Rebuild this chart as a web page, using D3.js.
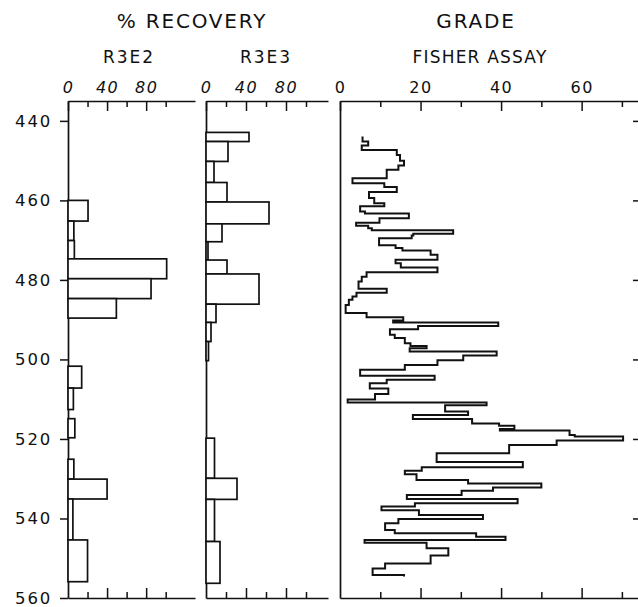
<!DOCTYPE html>
<html>
<head>
<meta charset="utf-8">
<script src="https://cdn.jsdelivr.net/npm/d3@7"></script>
<style>
  body { margin: 0; background: #fff; }
  svg { display: block; background: #fff; }
  text { font-family: "DejaVu Sans", sans-serif; fill: #111; }
</style>
</head>
<body>
<svg id="chart" width="638" height="607"></svg>
<script>
// Depth axis (ft) and tick values
const depthTicks = [440, 460, 480, 500, 520, 540, 560];
const depthMarks = [440, 460, 480, 500, 520, 540];
const recoveryMajor = [0, 40, 80];
const recoveryMinor = [20, 60, 100];
const gradeMajor = [0, 20, 40, 60];
const gradeMinor = [10, 30, 50, 70];

// % recovery, well R3E2: interval top, interval bottom, recovery
const r3e2Top    = [460.0, 465.2, 470.1, 474.7, 479.7, 484.7, 501.7, 507.2, 514.9, 525.1, 530.1, 535.1, 545.4];
const r3e2Bottom = [465.2, 470.1, 474.7, 479.7, 484.7, 489.6, 507.2, 512.6, 519.7, 530.1, 535.1, 545.4, 555.9];
const r3e2Value  = [20.5, 6, 6.5, 101, 85, 49.5, 14, 5.5, 7, 6, 40, 5, 20];

// % recovery, well R3E3
const r3e3Top    = [442.9, 445.2, 450.2, 455.5, 460.4, 465.9, 470.4, 475.0, 478.5, 486.1, 490.7, 495.5, 519.8, 529.9, 535.2, 545.8];
const r3e3Bottom = [445.2, 450.2, 455.5, 460.4, 465.9, 470.4, 475.0, 478.5, 486.1, 490.7, 495.5, 500.3, 529.9, 535.2, 545.8, 556.3];
const r3e3Value  = [43, 22, 8, 21, 63, 16, 2, 21, 53, 10, 5, 2.5, 8.5, 31, 8.5, 14];

// Fisher assay grade profile: interval boundaries (ft) and grade within each interval
const assayDepth = [
  443.9, 445.2, 446.2, 447.3, 448.6, 450.0, 451.2, 452.3, 454.4, 455.7,
  456.6, 457.9, 459.4, 460.7, 461.5, 462.8, 463.3, 464.5, 465.6, 466.4,
  467.0, 467.5, 468.4, 468.8, 469.5, 471.3, 472.0, 472.6, 473.7, 474.9,
  475.8, 476.9, 478.1, 479.2, 480.4, 482.2, 483.2, 484.2, 485.0, 486.3,
  488.3, 489.4, 490.2, 490.7, 491.6, 492.4, 493.8, 494.6, 495.9, 496.6,
  497.2, 498.0, 499.0, 500.2, 501.4, 502.6, 504.1, 505.1, 506.0, 507.3,
  508.7, 510.1, 510.8, 511.5, 513.1, 514.0, 515.0, 516.1, 516.7, 517.5,
  517.9, 519.0, 519.4, 520.4, 521.5, 523.6, 525.8, 527.1, 528.0, 528.9,
  530.3, 531.2, 532.2, 533.0, 534.1, 535.1, 536.2, 537.0, 537.9, 539.1,
  540.1, 541.2, 542.9, 543.7, 544.6, 545.4, 546.1, 547.5, 549.3, 551.3,
  552.6, 554.2, 554.6
];
const assayGrade = [
  5.6, 7.0, 5.4, 14.1, 14.9, 15.9, 14.5, 11.6, 3.1, 11.0,
  14.1, 7.2, 8.5, 11.0, 5.0, 6.2, 17.1, 9.8, 4.0, 7.0,
  7.9, 28.1, 18.2, 17.8, 9.7, 13.8, 15.5, 22.5, 24.2, 13.8,
  15.1, 24.2, 6.6, 5.4, 4.6, 11.6, 4.1, 3.1, 2.2, 1.4,
  6.6, 15.7, 13.2, 39.3, 19.4, 12.4, 13.6, 16.1, 17.5, 21.5,
  17.3, 38.9, 30.6, 24.2, 16.1, 5.0, 23.5, 11.6, 7.4, 12.0,
  8.7, 1.9, 36.4, 26.1, 31.8, 18.1, 32.8, 39.5, 43.3, 39.7,
  57.0, 58.3, 70.3, 53.8, 42.0, 24.0, 45.4, 20.3, 16.1, 19.0,
  31.8, 50.0, 38.0, 30.2, 16.6, 44.1, 18.6, 10.3, 19.6, 35.5,
  14.5, 11.2, 13.6, 33.8, 41.1, 6.1, 21.5, 26.9, 22.5, 11.2,
  8.1, 15.9
];

const svg = d3.select("#chart");
const ink = "#111";

const y  = d3.scaleLinear().domain([435, 560]).range([101, 598]);
const x1 = d3.scaleLinear().domain([0, 130]).range([68, 195]);
const x2 = d3.scaleLinear().domain([0, 122]).range([206, 328]);
const x3 = d3.scaleLinear().domain([0, 74]).range([340, 638]);

function styleAxis(g, opts = {}) {
  g.selectAll("path.domain").attr("stroke", ink).attr("stroke-width", 1.7);
  g.selectAll(".tick line").attr("stroke", ink).attr("stroke-width", 1.5);
  g.selectAll(".tick text").attr("font-family", "DejaVu Sans, sans-serif")
    .attr("font-size", opts.size || 16).attr("fill", ink)
    .attr("font-style", opts.italic ? "italic" : "normal")
    .attr("letter-spacing", opts.spacing || 0);
  if (opts.noDomain) g.select("path.domain").remove();
  g.attr("font-family", null);
}

// Depth axis on the left of the first panel
svg.append("g").attr("transform", "translate(68,0)")
  .call(d3.axisLeft(y).tickValues(depthTicks).tickSize(8).tickSizeOuter(0).tickPadding(8).tickFormat(d3.format("d")))
  .call(g => styleAxis(g, { size: 16.5, spacing: 1.8 }));

// Inward depth ticks on the right edge of the grade panel
svg.append("g").attr("transform", "translate(638,0)")
  .call(d3.axisLeft(y).tickValues(depthMarks).tickSize(5).tickSizeOuter(0).tickFormat(""))
  .call(g => styleAxis(g, { noDomain: true }));

// Left edges of the second and third panels
[x2, x3].forEach(sc => {
  svg.append("g").attr("transform", `translate(${sc(0)},0)`)
    .call(d3.axisLeft(y).tickValues([]).tickSizeOuter(0))
    .call(g => styleAxis(g));
});

function frameAxes(sc, major, minor, italic, fmt) {
  // top: labelled major ticks and short minor ticks, pointing into the panel
  svg.append("g").attr("transform", "translate(0,101)")
    .call(d3.axisTop(sc).tickValues(major).tickSizeInner(-10).tickSizeOuter(0).tickPadding(8).tickFormat(fmt))
    .call(g => styleAxis(g, { size: 16, italic, spacing: 1.5 }));
  svg.append("g").attr("transform", "translate(0,101)")
    .call(d3.axisTop(sc).tickValues(minor).tickSizeInner(-6).tickSizeOuter(0).tickFormat(""))
    .call(g => styleAxis(g, { noDomain: true }));
  // bottom: ticks pointing up
  svg.append("g").attr("transform", "translate(0,598)")
    .call(d3.axisBottom(sc).tickValues(major.filter(v => v > 0)).tickSizeInner(-10).tickSizeOuter(0).tickFormat(""))
    .call(g => styleAxis(g));
  svg.append("g").attr("transform", "translate(0,598)")
    .call(d3.axisBottom(sc).tickValues(minor).tickSizeInner(-6).tickSizeOuter(0).tickFormat(""))
    .call(g => styleAxis(g, { noDomain: true }));
}
frameAxes(x1, recoveryMajor, recoveryMinor, true, d3.format("d"));
frameAxes(x2, recoveryMajor, recoveryMinor, true, d3.format("d"));
frameAxes(x3, gradeMajor, gradeMinor, false, d3.format("d"));

// Recovery bars
function drawBars(sc, tops, bottoms, values) {
  svg.append("g").selectAll("rect")
    .data(values.map((v, i) => ({ top: tops[i], bottom: bottoms[i], v })))
    .join("rect")
    .attr("x", sc(0))
    .attr("y", d => y(d.top))
    .attr("width", d => sc(d.v) - sc(0))
    .attr("height", d => y(d.bottom) - y(d.top))
    .attr("fill", "#fff")
    .attr("stroke", ink)
    .attr("stroke-width", 1.7);
}
drawBars(x1, r3e2Top, r3e2Bottom, r3e2Value);
drawBars(x2, r3e3Top, r3e3Bottom, r3e3Value);

// Fisher assay step profile
const stepPts = [];
assayGrade.forEach((g, i) => {
  stepPts.push([g, assayDepth[i]]);
  stepPts.push([g, assayDepth[i + 1]]);
});
svg.append("path")
  .datum(stepPts)
  .attr("fill", "none")
  .attr("stroke", ink)
  .attr("stroke-width", 2)
  .attr("stroke-linejoin", "miter")
  .attr("d", d3.line().x(d => x3(d[0])).y(d => y(d[1])));

// Headings
const heads = [
  { t: "% RECOVERY", x: 192, y: 28, s: 20, ls: 1.8 },
  { t: "GRADE", x: 476, y: 28, s: 20, ls: 1.8 },
  { t: "R3E2", x: 129, y: 63, s: 17, ls: 2 },
  { t: "R3E3", x: 266, y: 63, s: 17, ls: 2 },
  { t: "FISHER ASSAY", x: 480, y: 63, s: 17, ls: 1.2 }
];
svg.append("g").selectAll("text").data(heads).join("text")
  .attr("x", d => d.x).attr("y", d => d.y)
  .attr("text-anchor", "middle")
  .attr("font-size", d => d.s)
  .attr("letter-spacing", d => d.ls)
  .text(d => d.t);
</script>
</body>
</html>
